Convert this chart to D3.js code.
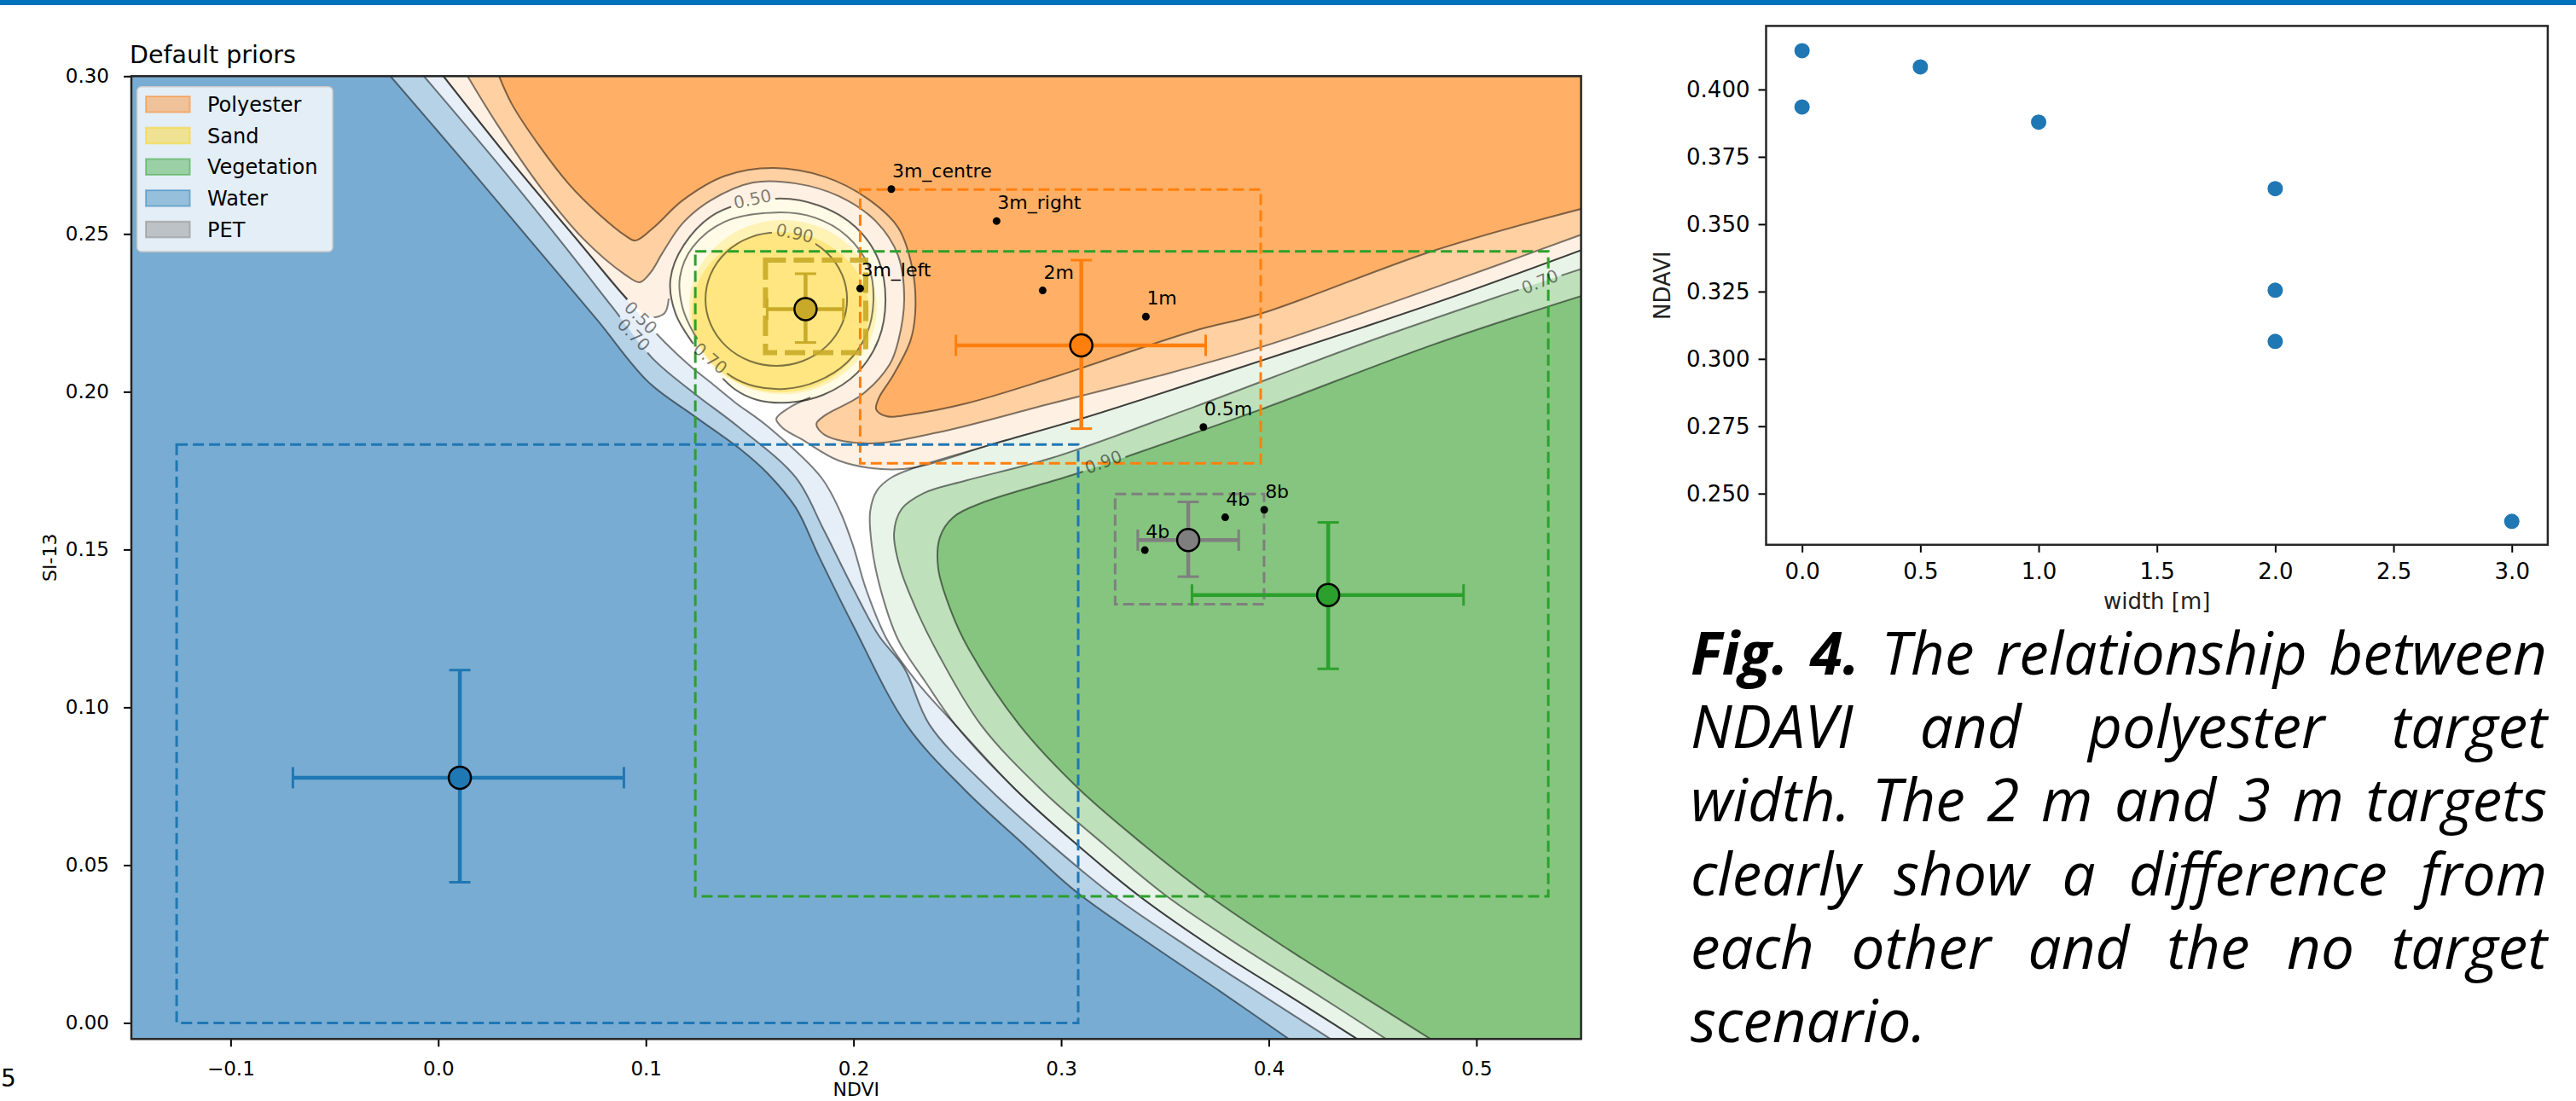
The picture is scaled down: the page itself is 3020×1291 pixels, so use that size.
<!DOCTYPE html>
<html>
<head>
<meta charset="utf-8">
<script src="https://cdn.jsdelivr.net/npm/d3@7"></script>
<style>
  body { margin: 0; background: #fff; }
  svg { display: block; font-family: "DejaVu Sans", sans-serif; }
</style>
</head>
<body>
<svg id="fig" width="3020" height="1291"></svg>
<script>
// ---------------- data: left panel (NDVI / SI-13) ----------------
var classNames = ["Polyester", "Sand", "Vegetation", "Water", "PET"];
var classColors = ["#ff7f0e", "#c9aa28", "#2ca02c", "#1f77b4", "#7f7f7f"];
var legendColors = ["#ff7f0e", "#ffd000", "#2ca02c", "#1f77b4", "#7f7f7f"];

// class means and +/- spread (error bars)
var meanX = [0.3097, 0.1769, 0.4286, 0.0104, 0.3612];
var meanY = [0.2147, 0.2262, 0.1356, 0.0777, 0.1530];
var xLo = [0.2493, 0.1584, 0.3630, -0.0700, 0.3369];
var xHi = [0.3696, 0.1951, 0.4938, 0.0894, 0.3855];
var yLo = [0.1883, 0.2156, 0.1122, 0.0446, 0.1414];
var yHi = [0.2417, 0.2374, 0.1586, 0.1118, 0.1651];

// prior boxes
var boxX0 = [0.2032, 0.1576, 0.1238, -0.1260, 0.3260];
var boxX1 = [0.3961, 0.2059, 0.5346, 0.3082, 0.3977];
var boxY0 = [0.1773, 0.2124, 0.0401, 0.0000, 0.1327];
var boxY1 = [0.2641, 0.2417, 0.2445, 0.1833, 0.1676];

// target observations
var obsLabels = ["3m_centre", "3m_right", "3m_left", "2m", "1m", "0.5m", "4b", "8b", "4b"];
var obsX = [0.2182, 0.2689, 0.2032, 0.2911, 0.3408, 0.3685, 0.3790, 0.3978, 0.3403];
var obsY = [0.2642, 0.2541, 0.2327, 0.2321, 0.2238, 0.1888, 0.1602, 0.1626, 0.1498];

// posterior contours (NDVI, SI-13)
var water90 = [[-0.023,0.300],[0.0108,0.2741],[0.0436,0.2485],[0.0765,0.2228],[0.1012,0.2031],[0.1229,0.1925],[0.1463,0.1814],[0.1587,0.1741],[0.1722,0.1633],[0.1833,0.1479],[0.1998,0.1260],[0.2256,0.0944],[0.2532,0.0741],[0.2819,0.0566],[0.3070,0.0417],[0.3435,0.0247],[0.3764,0.0101],[0.4097,-0.0051]];
var water70 = [[-0.0069,0.300],[0.0264,0.2741],[0.0580,0.2485],[0.0839,0.2268],[0.1032,0.2106],[0.1237,0.1993],[0.1443,0.1890],[0.1722,0.1728],[0.1854,0.1566],[0.1998,0.1377],[0.2121,0.1228],[0.2244,0.1125],[0.2367,0.0944],[0.2655,0.0741],[0.2950,0.0566],[0.3255,0.0401],[0.3641,0.0228],[0.3969,0.0088],[0.4298,-0.0051]];
var water50 = [[0.0025,0.300],[0.0354,0.2728],[0.0682,0.2471],[0.0888,0.2309],[0.0979,0.2236],[0.1094,0.2155],[0.1209,0.2084],[0.1320,0.2025],[0.1430,0.1966],[0.1587,0.1890],[0.1845,0.1728],[0.1936,0.1620],[0.1998,0.1512],[0.2059,0.1377],[0.2162,0.1214],[0.2306,0.1080],[0.2491,0.0944],[0.2778,0.0741],[0.3074,0.0566],[0.3378,0.0401],[0.3743,0.0233],[0.4093,0.0088],[0.4426,-0.0051]];

var poly90 = [[0.0293,0.300],[0.0354,0.2912],[0.0490,0.2776],[0.0629,0.2658],[0.0765,0.2568],[0.0900,0.2495],[0.0950,0.2479],[0.1040,0.2522],[0.1176,0.2606],[0.1381,0.2684],[0.1615,0.2709],[0.1862,0.2681],[0.2067,0.2612],[0.2215,0.2520],[0.2285,0.2384],[0.2297,0.2249],[0.2273,0.2160],[0.2191,0.2052],[0.2121,0.1979],[0.2109,0.1944],[0.2162,0.1922],[0.2273,0.1928],[0.2544,0.1963],[0.2954,0.2044],[0.3641,0.2193],[0.3961,0.2247],[0.4803,0.2449],[0.5531,0.2584]];
var poly70 = [[0.0141,0.300],[0.0284,0.2847],[0.0490,0.2650],[0.0695,0.2487],[0.0900,0.2371],[0.0970,0.2347],[0.1024,0.2379],[0.1081,0.2441],[0.1176,0.2533],[0.1311,0.2606],[0.1517,0.2663],[0.1722,0.2660],[0.1928,0.2620],[0.2109,0.2539],[0.2215,0.2431],[0.2244,0.2295],[0.2215,0.2160],[0.2174,0.2087],[0.2039,0.1990],[0.1862,0.1925],[0.1821,0.1898],[0.1862,0.1863],[0.2067,0.1836],[0.2408,0.1871],[0.2954,0.1963],[0.3435,0.2044],[0.3961,0.2141],[0.4803,0.2331],[0.5531,0.2504]];
var poly50Upper = [[0.0025,0.300],[0.0354,0.2728],[0.0682,0.2471],[0.0888,0.2309],[0.0962,0.2263],[0.1024,0.2236],[0.1090,0.2249],[0.1110,0.2295]];
var poly50Lower = [[0.1792,0.1982],[0.1689,0.1949],[0.1628,0.1914],[0.1661,0.1884],[0.1751,0.1849],[0.1928,0.1782],[0.2133,0.1755],[0.2297,0.1760],[0.2655,0.1831],[0.3094,0.1914],[0.3435,0.1985],[0.3961,0.2098],[0.4462,0.2206],[0.4944,0.2314],[0.5531,0.2455]];

var veg50 = [[0.5531,0.2455],[0.4944,0.2314],[0.4462,0.2206],[0.3961,0.2098],[0.3435,0.1985],[0.3094,0.1914],[0.2655,0.1831],[0.2297,0.1760],[0.2182,0.1728],[0.2113,0.1687],[0.2080,0.1620],[0.2088,0.1512],[0.2129,0.1377],[0.2215,0.1214],[0.2347,0.1080],[0.2491,0.0944],[0.2778,0.0741],[0.3074,0.0566],[0.3378,0.0401],[0.3743,0.0233],[0.4093,0.0088],[0.4426,-0.0051]];
var veg70 = [[0.5531,0.2395],[0.5161,0.2314],[0.4462,0.2155],[0.3641,0.1952],[0.2954,0.1790],[0.2544,0.1719],[0.2339,0.1679],[0.2231,0.1628],[0.2195,0.1552],[0.2223,0.1444],[0.2306,0.1304],[0.2408,0.1169],[0.2614,0.0944],[0.2901,0.0741],[0.3205,0.0566],[0.3509,0.0401],[0.3887,0.0233],[0.4237,0.0088],[0.4565,-0.0051]];
var veg90 = [[0.5531,0.2309],[0.4803,0.2152],[0.3961,0.1944],[0.3353,0.1803],[0.3053,0.1736],[0.2614,0.1647],[0.2478,0.1601],[0.2416,0.1539],[0.2408,0.1439],[0.2470,0.1304],[0.2553,0.1187],[0.2799,0.0944],[0.3086,0.0741],[0.3394,0.0566],[0.3715,0.0401],[0.4093,0.0233],[0.4442,0.0088],[0.4779,-0.0051]];

var sand50 = [[0.1628,0.2612],[0.1833,0.2590],[0.2010,0.2522],[0.2121,0.2417],[0.2154,0.2290],[0.2121,0.2166],[0.2018,0.2060],[0.1854,0.1990],[0.1689,0.1966],[0.1537,0.1974],[0.1430,0.2007],[0.1332,0.2069],[0.1225,0.2155],[0.1143,0.2247],[0.1118,0.2355],[0.1184,0.2466],[0.1340,0.2566]];
var sand70 = [[0.1628,0.2568],[0.1813,0.2552],[0.1969,0.2493],[0.2072,0.2398],[0.2096,0.2290],[0.2063,0.2182],[0.1969,0.2093],[0.1825,0.2033],[0.1669,0.2009],[0.1526,0.2017],[0.1415,0.2047],[0.1320,0.2104],[0.1234,0.2182],[0.1176,0.2268],[0.1164,0.2363],[0.1225,0.2458],[0.1381,0.2539]];
var sand90 = [0.1628, 0.2293, 0.0341, 0.0211];        // cx, cy, rx, ry
var sandFill70 = [0.1660, 0.2268, 0.0452, 0.0276];
var sandFill90 = [0.1648, 0.2252, 0.0427, 0.0254];

var clabelText = ["0.50", "0.90", "0.70", "0.50", "0.70", "0.90", "0.70"];
var clabelX = [0.1513, 0.1717, 0.1311, 0.0976, 0.0942, 0.3203, 0.5305];
var clabelY = [0.2611, 0.2503, 0.2106, 0.2235, 0.2181, 0.1778, 0.2349];
var clabelAngle = [-12, 12, 40, 45, 45, -20, -22];

var leftXTicks = [-0.1, 0.0, 0.1, 0.2, 0.3, 0.4, 0.5];
var leftYTicks = [0.00, 0.05, 0.10, 0.15, 0.20, 0.25, 0.30];

// ---------------- data: right panel ----------------
var widthM = [0, 0, 0.5, 1, 2, 2, 2, 3];
var ndavi = [0.4144, 0.3935, 0.4084, 0.3879, 0.3632, 0.3255, 0.3065, 0.2397];
var rightXTicks = [0, 0.5, 1.0, 1.5, 2.0, 2.5, 3.0];
var rightYTicks = [0.250, 0.275, 0.300, 0.325, 0.350, 0.375, 0.400];

var captionLines = [
  ["Fig. 4.", "The relationship between"],
  ["", "NDAVI and polyester target"],
  ["", "width. The 2 m and 3 m targets"],
  ["", "clearly show a difference from"],
  ["", "each other and the no target"],
  ["", "scenario."]
];

// ---------------- drawing ----------------
var svg = d3.select("#fig");
svg.append("rect").attr("width", 3020).attr("height", 6).attr("fill", "#0071bb");

var x = d3.scaleLinear().domain([-0.1478, 0.5504]).range([154, 1853.6]);
var y = d3.scaleLinear().domain([-0.0051, 0.300]).range([1218.3, 89.3]);

var defs = svg.append("defs");
defs.append("clipPath").attr("id", "plotclip").append("rect")
  .attr("x", x.range()[0]).attr("y", y.range()[1])
  .attr("width", x.range()[1] - x.range()[0]).attr("height", y.range()[0] - y.range()[1]);

var line = d3.line().x(function(d) { return x(d[0]); }).y(function(d) { return y(d[1]); })
  .curve(d3.curveCatmullRom.alpha(0.5));
var closedLine = d3.line().x(function(d) { return x(d[0]); }).y(function(d) { return y(d[1]); })
  .curve(d3.curveCatmullRomClosed.alpha(0.5));
function pt(p) { return x(p[0]) + "," + y(p[1]); }
function cont(pts) { return line(pts).replace(/^M/, "L"); }

function waterRegion(pts) {
  var a = pts[0], b = pts[pts.length - 1];
  return "M" + pt([-0.3, 0.35]) + "L" + pt([a[0], 0.35]) + cont(pts) +
    "L" + pt([b[0], -0.05]) + "L" + pt([-0.3, -0.05]) + "Z";
}
function polyRegion(parts) {
  var a = parts[0][0], last = parts[parts.length - 1], b = last[last.length - 1];
  var d = "M" + pt([0.7, 0.35]) + "L" + pt([a[0], 0.35]);
  parts.forEach(function(p) { d += cont(p); });
  return d + "L" + pt([0.7, b[1]]) + "Z";
}
function vegRegion(pts) {
  var a = pts[0], b = pts[pts.length - 1];
  return "M" + pt([0.7, -0.05]) + "L" + pt([0.7, a[1]]) + cont(pts) + "L" + pt([b[0], -0.05]) + "Z";
}

var plot = svg.append("g").attr("clip-path", "url(#plotclip)");
plot.append("rect").attr("x", 154).attr("y", 89.3).attr("width", 1700).attr("height", 1130).attr("fill", "#fff");

var waterBands = ["#e6eff7", "#b5d2e7", "#79acd2"];
var polyBands = ["#fef0e3", "#fed0a2", "#ffb066"];
var vegBands = ["#e9f4e8", "#bee0bb", "#85c57f"];
var sandBands = ["#fffbe6", "#fff2b5", "#ffe680"];

[water50, water70, water90].forEach(function(c, i) {
  plot.append("path").attr("d", waterRegion(c)).attr("fill", waterBands[i]);
});
[[poly50Upper, poly50Lower], [poly70], [poly90]].forEach(function(c, i) {
  plot.append("path").attr("d", polyRegion(c)).attr("fill", polyBands[i]);
});
[veg50, veg70, veg90].forEach(function(c, i) {
  plot.append("path").attr("d", vegRegion(c)).attr("fill", vegBands[i]);
});
plot.append("path").attr("d", closedLine(sand50)).attr("fill", sandBands[0]);
[sandFill70, sandFill90].forEach(function(e, i) {
  plot.append("ellipse").attr("cx", x(e[0])).attr("cy", y(e[1]))
    .attr("rx", x(e[0] + e[2]) - x(e[0])).attr("ry", y(e[1]) - y(e[1] + e[3]))
    .attr("fill", sandBands[i + 1]);
});

// label gaps in the contour lines
var mask = defs.append("mask").attr("id", "lblmask").attr("maskUnits", "userSpaceOnUse")
  .attr("x", 0).attr("y", 0).attr("width", 3020).attr("height", 1291);
mask.append("rect").attr("width", 3020).attr("height", 1291).attr("fill", "#fff");
var clabelG = svg.append("g").attr("clip-path", "url(#plotclip)");
clabelText.forEach(function(t, i) {
  var tx = clabelG.append("text")
    .attr("transform", "translate(" + x(clabelX[i]) + "," + y(clabelY[i]) + ") rotate(" + clabelAngle[i] + ")")
    .attr("text-anchor", "middle").attr("dy", "0.36em")
    .attr("font-size", 20).attr("fill", "#000").attr("fill-opacity", 0.5).text(t);
  var w = tx.node().getComputedTextLength() + 8;
  mask.append("rect").attr("x", -w / 2).attr("y", -11).attr("width", w).attr("height", 22)
    .attr("transform", "translate(" + x(clabelX[i]) + "," + y(clabelY[i]) + ") rotate(" + clabelAngle[i] + ")")
    .attr("fill", "#000");
});

var lines = plot.append("g").attr("mask", "url(#lblmask)")
  .attr("fill", "none").attr("stroke", "#000").attr("stroke-opacity", 0.5).attr("stroke-width", 2);
[water90, water70, water50, poly90, poly70, poly50Upper, poly50Lower, veg50, veg70, veg90].forEach(function(c) {
  lines.append("path").attr("d", line(c));
});
lines.append("path").attr("d", closedLine(sand50)).attr("stroke-opacity", 0.62);
lines.append("path").attr("d", closedLine(sand70));
lines.append("ellipse").attr("cx", x(sand90[0])).attr("cy", y(sand90[1]))
  .attr("rx", x(sand90[0] + sand90[2]) - x(sand90[0])).attr("ry", y(sand90[1]) - y(sand90[1] + sand90[3]));
clabelG.raise();

// prior boxes
var boxes = plot.append("g").attr("fill", "none");
classNames.forEach(function(n, i) {
  var sand = n === "Sand";
  boxes.append("rect")
    .attr("x", x(boxX0[i])).attr("y", y(boxY1[i]))
    .attr("width", x(boxX1[i]) - x(boxX0[i])).attr("height", y(boxY0[i]) - y(boxY1[i]))
    .attr("stroke", classColors[i]).attr("stroke-width", sand ? 6 : 3)
    .attr("stroke-dasharray", sand ? "24,9" : "13,6")
    .attr("stroke-opacity", sand ? 0.9 : 1);
});

// error bars
var eb = plot.append("g");
classNames.forEach(function(n, i) {
  var g = eb.append("g").attr("stroke", classColors[i]);
  var cx = x(meanX[i]), cy = y(meanY[i]);
  g.append("line").attr("x1", x(xLo[i])).attr("x2", x(xHi[i])).attr("y1", cy).attr("y2", cy).attr("stroke-width", 4.5);
  g.append("line").attr("x1", cx).attr("x2", cx).attr("y1", y(yLo[i])).attr("y2", y(yHi[i])).attr("stroke-width", 4.5);
  [xLo[i], xHi[i]].forEach(function(v) {
    g.append("line").attr("x1", x(v)).attr("x2", x(v)).attr("y1", cy - 12.5).attr("y2", cy + 12.5).attr("stroke-width", 3);
  });
  [yLo[i], yHi[i]].forEach(function(v) {
    g.append("line").attr("x1", cx - 12.5).attr("x2", cx + 12.5).attr("y1", y(v)).attr("y2", y(v)).attr("stroke-width", 3);
  });
  eb.append("circle").attr("cx", cx).attr("cy", cy).attr("r", 13)
    .attr("fill", classColors[i]).attr("stroke", "#000").attr("stroke-width", 2.5);
});

// observation points
var obs = svg.append("g");
obsLabels.forEach(function(l, i) {
  obs.append("circle").attr("cx", x(obsX[i])).attr("cy", y(obsY[i])).attr("r", 4.5).attr("fill", "#000");
  obs.append("text").attr("x", x(obsX[i]) + 1).attr("y", y(obsY[i]) - 14)
    .attr("font-size", 22).attr("fill", "#000").text(l);
});

// legend
var lg = svg.append("g");
lg.append("rect").attr("x", 160.7).attr("y", 101.7).attr("width", 229.3).attr("height", 193.3).attr("rx", 5)
  .attr("fill", "#fff").attr("fill-opacity", 0.8).attr("stroke", "#cccccc").attr("stroke-width", 1.5);
classNames.forEach(function(n, i) {
  var cy = 122.3 + i * 36.7;
  lg.append("rect").attr("x", 171).attr("y", cy - 9.3).attr("width", 51.6).attr("height", 18.6)
    .attr("fill", legendColors[i]).attr("fill-opacity", 0.4)
    .attr("stroke", legendColors[i]).attr("stroke-opacity", 0.45).attr("stroke-width", 2);
  lg.append("text").attr("x", 243).attr("y", cy + 8.5).attr("font-size", 24).attr("fill", "#000").text(n);
});

// axes (left)
function styleAxis(g, size) {
  g.select(".domain").remove();
  g.attr("font-family", '"DejaVu Sans", sans-serif').attr("font-size", size);
  g.selectAll(".tick line").attr("stroke", "#000").attr("stroke-width", 2);
  g.selectAll(".tick text").attr("fill", "#000");
}
svg.append("g").attr("transform", "translate(0," + y.range()[0] + ")")
  .call(d3.axisBottom(x).tickValues(leftXTicks).tickFormat(d3.format(".1f")).tickSize(9).tickPadding(17))
  .call(styleAxis, 23);
svg.append("g").attr("transform", "translate(" + x.range()[0] + ",0)")
  .call(d3.axisLeft(y).tickValues(leftYTicks).tickFormat(d3.format(".2f")).tickSize(9).tickPadding(17))
  .call(styleAxis, 23);
svg.append("rect").attr("x", 154).attr("y", 89.3).attr("width", 1699.6).attr("height", 1129)
  .attr("fill", "none").attr("stroke", "#262626").attr("stroke-width", 2.5);
svg.append("text").attr("x", 152).attr("y", 74).attr("font-size", 28.5).attr("fill", "#000").text("Default priors");
svg.append("text").attr("x", (154 + 1853.6) / 2).attr("y", 1285).attr("text-anchor", "middle")
  .attr("font-size", 22).attr("fill", "#000").text("NDVI");
svg.append("text").attr("transform", "translate(66," + (89.3 + 1218.3) / 2 + ") rotate(-90)")
  .attr("text-anchor", "middle").attr("font-size", 22).attr("fill", "#000").text("SI-13");

// ---------------- right panel ----------------
var x2 = d3.scaleLinear().domain([-0.152, 3.152]).range([2070.5, 2986.9]);
var y2 = d3.scaleLinear().domain([0.2310, 0.4236]).range([638.8, 30.4]);
svg.append("g").selectAll("circle").data(widthM).enter().append("circle")
  .attr("cx", function(d) { return x2(d); })
  .attr("cy", function(d, i) { return y2(ndavi[i]); })
  .attr("r", 9).attr("fill", "#1f77b4");
svg.append("g").attr("transform", "translate(0," + y2.range()[0] + ")")
  .call(d3.axisBottom(x2).tickValues(rightXTicks).tickFormat(d3.format(".1f")).tickSize(9).tickPadding(13))
  .call(styleAxis, 26);
svg.append("g").attr("transform", "translate(" + x2.range()[0] + ",0)")
  .call(d3.axisLeft(y2).tickValues(rightYTicks).tickFormat(d3.format(".3f")).tickSize(9).tickPadding(10))
  .call(styleAxis, 26);
svg.append("rect").attr("x", 2070.5).attr("y", 30.4).attr("width", 2986.9 - 2070.5).attr("height", 638.8 - 30.4)
  .attr("fill", "none").attr("stroke", "#262626").attr("stroke-width", 2.5);
svg.append("text").attr("x", (2070.5 + 2986.9) / 2).attr("y", 714).attr("text-anchor", "middle")
  .attr("font-size", 26).attr("fill", "#222").text("width [m]");
svg.append("text").attr("transform", "translate(1958," + (30.4 + 638.8) / 2 + ") rotate(-90)")
  .attr("text-anchor", "middle").attr("font-size", 26).attr("fill", "#222").text("NDAVI");

// ---------------- caption (justified, one text per line) ----------------
var capX0 = 1982, capX1 = 2986, capTop = 791, capLead = 86.2;
var capG = svg.append("g").attr("font-family", '"Open Sans", sans-serif').attr("font-style", "italic").attr("fill", "#000");
function makeLine(parts, size) {
  var t = capG.append("text").attr("font-size", size);
  if (parts[0]) t.append("tspan").attr("font-weight", 700).text(parts[0] + " ");
  t.append("tspan").attr("font-weight", 400).text(parts[1]);
  return t;
}
var probe = makeLine(captionLines[0], 100);
var capSize = 0.97 * 100 * (capX1 - capX0) / probe.node().getComputedTextLength();
probe.remove();
captionLines.forEach(function(parts, li) {
  var t = makeLine(parts, capSize).attr("x", capX0).attr("y", capTop + li * capLead);
  if (li < captionLines.length - 1) {
    var nat = t.node().getComputedTextLength();
    var nSpaces = (parts[0] ? parts[0] + " " : "").concat(parts[1]).split(" ").length - 1;
    t.attr("word-spacing", (capX1 - capX0 - nat) / nSpaces);
  }
});

// page number fragment at the lower left
svg.append("text").attr("x", 1).attr("y", 1274).attr("font-size", 28).attr("fill", "#000").text("5");
</script>
</body>
</html>
